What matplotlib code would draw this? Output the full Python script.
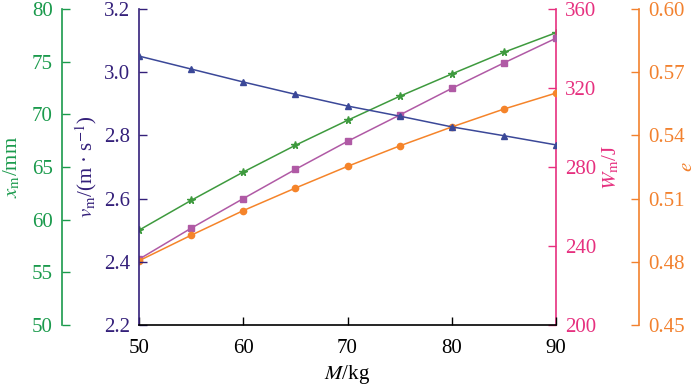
import matplotlib
matplotlib.use("Agg")
import matplotlib.pyplot as plt
import numpy as np

plt.rcParams['font.family'] = ['Liberation Serif', 'DejaVu Serif']
plt.rcParams['mathtext.fontset'] = 'stix'

M = [50, 55, 60, 65, 70, 75, 80, 85, 90]
v_m = [3.051, 3.010, 2.969, 2.930, 2.893, 2.861, 2.827, 2.799, 2.770]
x_m = [59.0, 61.83, 64.52, 67.06, 69.43, 71.71, 73.83, 75.89, 77.75]
W_m = [233.3, 249.0, 264.0, 278.8, 293.0, 306.3, 319.8, 332.7, 345.2]
e_vals = [0.4805, 0.4926, 0.5043, 0.5150, 0.5253, 0.5350, 0.5440, 0.5525, 0.5601]

x_ticks = [50, 60, 70, 80, 90]
v_ticks = [2.2, 2.4, 2.6, 2.8, 3.0, 3.2]
xm_ticks = [50, 55, 60, 65, 70, 75, 80]
W_ticks = [200, 240, 280, 320, 360]
e_ticks = [0.45, 0.48, 0.51, 0.54, 0.57, 0.60]

c_green_ax = '#1a9a4c'
c_green_ln = '#3e9a3e'
c_navy_ax = '#34207a'
c_navy_ln = '#3b4898'
c_mag_ax = '#e6307f'
c_mag_ln = '#b05aa5'
c_or_ax = '#f2812e'
c_or_ln = '#f5842a'

fs = 15
fig = plt.figure(figsize=(7, 3.85), dpi=100)
ax = fig.add_axes([139/700, 1-325/385, 417/700, 316/385])
axg = ax.twinx()
axw = ax.twinx()
axe = ax.twinx()

lw = 1.1
ms = 4.5
axg.plot(M, x_m, color=c_green_ln, lw=lw, marker='*', ms=ms+1.0, zorder=3)
axw.plot(M, W_m, color=c_mag_ln, lw=lw, marker='s', ms=ms, zorder=3)
axe.plot(M, e_vals, color=c_or_ln, lw=lw, marker='o', ms=ms, zorder=3)
ax.plot(M, v_m, color=c_navy_ln, lw=lw, marker='^', ms=ms+0.5, zorder=3)
ax.set_zorder(axe.get_zorder() + 1)
ax.patch.set_visible(False)

tick_kw = dict(direction='in', length=6, width=1.0, labelsize=fs, pad=6.5)

# main axis (navy, left)
ax.set_xlim(50, 90)
ax.set_ylim(2.2, 3.2)
ax.set_xticks(x_ticks)
ax.set_yticks(v_ticks)
ax.set_yticklabels([f'{t:.1f}' for t in v_ticks])
ax.tick_params(axis='x', direction='in', length=6, width=1.0, labelsize=fs, pad=10, colors='black')
ax.tick_params(axis='y', colors=c_navy_ax, **tick_kw)
ax.spines['left'].set_color(c_navy_ax)
ax.spines['left'].set_linewidth(1.2)
ax.spines['bottom'].set_linewidth(1.2)
ax.spines['top'].set_visible(False)
ax.spines['right'].set_visible(False)
ax.set_xlabel(r'$M$/kg', fontsize=fs, labelpad=4)
ax.set_ylabel(r'$v_{\rm m}$/(m · s$^{-1}$)', fontsize=fs, color=c_navy_ax)
ax.yaxis.set_label_coords(-0.096, 0.5)

# green axis (outer left)
axg.set_ylim(50, 80)
axg.set_yticks(xm_ticks)
axg.yaxis.set_ticks_position('left')
axg.yaxis.set_label_position('left')
axg.spines['left'].set_position(('axes', (62-139)/417))
axg.spines['left'].set_visible(True)
axg.spines['left'].set_color(c_green_ax)
axg.spines['left'].set_linewidth(1.2)
for s in ['right', 'top', 'bottom']:
    axg.spines[s].set_visible(False)
axg.tick_params(axis='y', colors=c_green_ax, **tick_kw)
axg.set_ylabel(r'$x_{\rm m}$/mm', fontsize=fs, color=c_green_ax)
axg.yaxis.set_label_coords(-0.28, 0.5)

# magenta axis (inner right)
axw.set_ylim(200, 360)
axw.set_yticks(W_ticks)
axw.spines['right'].set_color(c_mag_ax)
axw.spines['right'].set_linewidth(1.2)
for s in ['left', 'top', 'bottom']:
    axw.spines[s].set_visible(False)
axw.tick_params(axis='y', colors=c_mag_ax, **tick_kw)
axw.set_ylabel(r'$W_{\rm m}$/J', fontsize=fs, color=c_mag_ax)
axw.yaxis.set_label_coords(1.106, 0.5)

# orange axis (outer right)
axe.set_ylim(0.45, 0.60)
axe.set_yticks(e_ticks)
axe.set_yticklabels([f'{t:.2f}' for t in e_ticks])
axe.spines['right'].set_position(('axes', (639-139)/417))
axe.spines['right'].set_color(c_or_ax)
axe.spines['right'].set_linewidth(1.2)
for s in ['left', 'top', 'bottom']:
    axe.spines[s].set_visible(False)
axe.tick_params(axis='y', colors=c_or_ax, **tick_kw)
axe.set_ylabel(r'$e$', fontsize=fs, color=c_or_ax)
axe.yaxis.set_label_coords(1.292, 0.5)

fig.savefig('out.png', dpi=100)
